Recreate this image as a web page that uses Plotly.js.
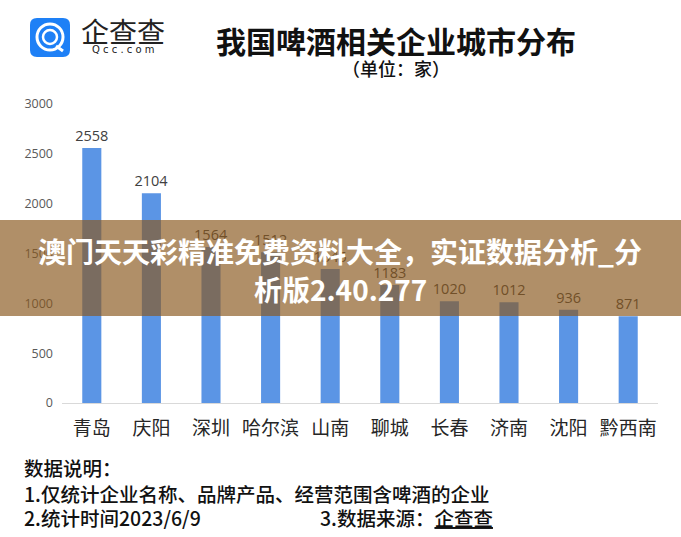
<!DOCTYPE html>
<html>
<head>
<meta charset="utf-8">
<script src="https://cdn.plot.ly/plotly-3.0.1.min.js"></script>
<style>
html,body{margin:0;padding:0;background:#fff;}
#chart{width:681px;height:537px;}
</style>
</head>
<body>
<div id="chart"></div>
<script>
const cities = ["青岛","庆阳","深圳","哈尔滨","山南","聊城","长春","济南","沈阳","黔西南"];
const counts = [2558, 2104, 1564, 1512, 1345, 1183, 1020, 1012, 936, 871];
const yTicks = [0, 500, 1000, 1500, 2000, 2500, 3000];

const CJK = '"Noto Sans CJK SC", "Noto Sans", sans-serif';
// pixel -> paper helpers (plot area: x 62..658, y 104..403)
const px = v => (v - 62) / 596;
const py = v => (403 - v) / 299;

function roundRect(x0, y0, x1, y1, r) {
  return 'M' + px(x0 + r) + ',' + py(y0) +
    ' L' + px(x1 - r) + ',' + py(y0) +
    ' Q' + px(x1) + ',' + py(y0) + ' ' + px(x1) + ',' + py(y0 + r) +
    ' L' + px(x1) + ',' + py(y1 - r) +
    ' Q' + px(x1) + ',' + py(y1) + ' ' + px(x1 - r) + ',' + py(y1) +
    ' L' + px(x0 + r) + ',' + py(y1) +
    ' Q' + px(x0) + ',' + py(y1) + ' ' + px(x0) + ',' + py(y1 - r) +
    ' L' + px(x0) + ',' + py(y0 + r) +
    ' Q' + px(x0) + ',' + py(y0) + ' ' + px(x0 + r) + ',' + py(y0) + ' Z';
}

const trace = {
  type: 'bar',
  x: cities,
  y: counts,
  marker: {color: '#5B95E5'},
  text: counts.map(String),
  textposition: 'outside',
  constraintext: 'none',
  textfont: {family: '"Open Sans", "Noto Sans", sans-serif', size: 14.5, color: '#404040'},
  cliponaxis: false,
  hoverinfo: 'x+y'
};

const layout = {
  width: 681, height: 537,
  margin: {l: 62, r: 23, t: 104, b: 134},
  paper_bgcolor: '#ffffff',
  plot_bgcolor: '#ffffff',
  bargap: 0.68,
  showlegend: false,
  xaxis: {
    type: 'category',
    showline: true, linecolor: '#d9d9d9', linewidth: 1,
    ticks: '', showgrid: false, zeroline: false,
    tickfont: {family: CJK, size: 19, color: '#262626'},
    ticklabelstandoff: 8
  },
  yaxis: {
    range: [0, 3000],
    tickvals: yTicks,
    ticktext: yTicks.map(String),
    showgrid: false, zeroline: false, showline: false,
    ticks: '',
    tickfont: {family: '"Open Sans", "Noto Sans", sans-serif', size: 12.5, color: '#595959'},
    ticklabelstandoff: 8
  },
  shapes: [
    // logo square
    {type: 'path', xref: 'paper', yref: 'paper', layer: 'above',
     path: roundRect(30, 18, 70, 57, 7), fillcolor: '#1E80F6', line: {width: 0}},
    {type: 'circle', xref: 'paper', yref: 'paper', layer: 'above',
     x0: px(37), x1: px(63), y0: py(50), y1: py(24), line: {color: '#ffffff', width: 3}},
    {type: 'circle', xref: 'paper', yref: 'paper', layer: 'above',
     x0: px(43), x1: px(57), y0: py(44), y1: py(30), line: {color: '#ffffff', width: 2.5}},
    {type: 'line', xref: 'paper', yref: 'paper', layer: 'above',
     x0: px(56), x1: px(63), y0: py(46), y1: py(51), line: {color: '#ffffff', width: 3}},
    // banner
    {type: 'rect', xref: 'paper', yref: 'paper', layer: 'above',
     x0: -1, x1: 2, y0: py(316), y1: py(220),
     fillcolor: 'rgba(137,88,30,0.67)', line: {width: 0}}
  ],
  annotations: [
    {xref: 'paper', yref: 'paper', x: px(396), y: py(40), xanchor: 'center', yanchor: 'middle',
     text: '<b>我国啤酒相关企业城市分布</b>', showarrow: false,
     font: {family: CJK, size: 30, color: '#111111'}},
    {xref: 'paper', yref: 'paper', x: px(396), y: py(68), xanchor: 'center', yanchor: 'middle',
     text: '（单位：家）', showarrow: false,
     font: {family: CJK, size: 18, color: '#111111', weight: 500}},
    {xref: 'paper', yref: 'paper', x: px(123), y: py(31), xanchor: 'center', yanchor: 'middle',
     text: '企查查', showarrow: false,
     font: {family: CJK, size: 28, color: '#222222'}},
    {xref: 'paper', yref: 'paper', x: px(123), y: py(50), xanchor: 'center', yanchor: 'middle',
     text: 'Q c c . c o m', showarrow: false,
     font: {family: '"DejaVu Sans", sans-serif', size: 10, color: '#222222'}},
    {xref: 'paper', yref: 'paper', x: px(340), y: py(251), xanchor: 'center', yanchor: 'middle',
     text: '<b>澳门天天彩精准免费资料大全，实证数据分析_分</b>', showarrow: false,
     font: {family: CJK, size: 28, color: '#ffffff'}},
    {xref: 'paper', yref: 'paper', x: px(340), y: py(289), xanchor: 'center', yanchor: 'middle',
     text: '<b>析版2.40.277</b>', showarrow: false,
     font: {family: CJK, size: 28, color: '#ffffff'}},
    {xref: 'paper', yref: 'paper', x: px(22), y: py(467), xanchor: 'left', yanchor: 'middle',
     text: '数据说明：', showarrow: false,
     font: {family: CJK, size: 19.5, color: '#111111', weight: 500}},
    {xref: 'paper', yref: 'paper', x: px(22), y: py(493), xanchor: 'left', yanchor: 'middle',
     text: '1.仅统计企业名称、品牌产品、经营范围含啤酒的企业', showarrow: false,
     font: {family: CJK, size: 19.5, color: '#111111', weight: 500}},
    {xref: 'paper', yref: 'paper', x: px(22), y: py(517), xanchor: 'left', yanchor: 'middle',
     text: '2.统计时间2023/6/9', showarrow: false,
     font: {family: CJK, size: 19.5, color: '#111111', weight: 500}},
    {xref: 'paper', yref: 'paper', x: px(318), y: py(517), xanchor: 'left', yanchor: 'middle',
     text: '3.数据来源：<u>企查查</u>', showarrow: false,
     font: {family: CJK, size: 19.5, color: '#111111', weight: 500}}
  ]
};

Plotly.newPlot('chart', [trace], layout, {displayModeBar: false, staticPlot: true});
</script>
</body>
</html>
